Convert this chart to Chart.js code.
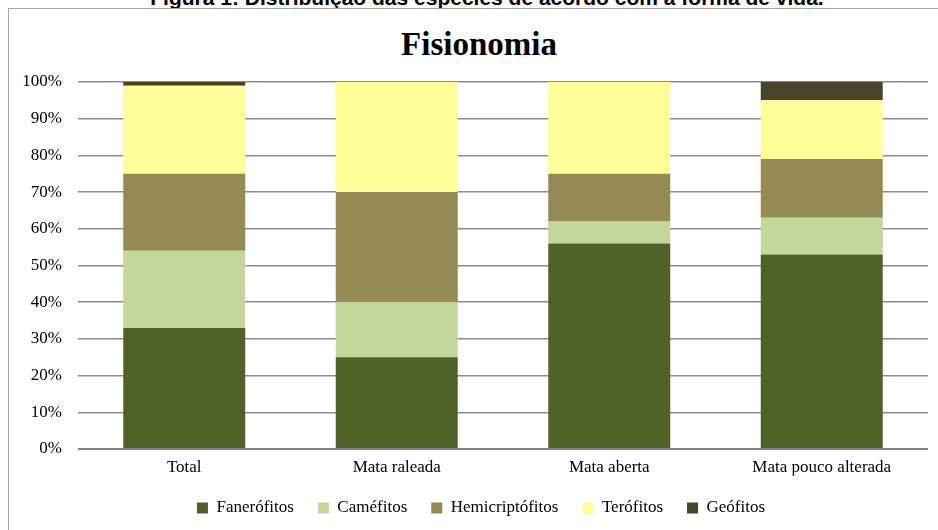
<!DOCTYPE html>
<html>
<head>
<meta charset="utf-8">
<script src="https://cdn.jsdelivr.net/npm/chart.js@4/dist/chart.umd.min.js"></script>
<style>
  html, body { margin:0; padding:0; background:#fff; width:938px; height:530px; overflow:hidden; position:relative; }
  #caption { position:absolute; left:18px; width:938px; top:-14px; text-align:center; font-family:"Liberation Sans", Arial, sans-serif; font-weight:bold; font-size:21px; color:#000; white-space:nowrap; }
  #frame { position:absolute; left:8px; top:8px; width:1000px; height:600px; border:1.5px solid #a6a6a6; box-sizing:border-box; }
  #title { position:absolute; left:10px; width:938px; top:24px; text-align:center; font-family:'Liberation Serif', 'Times New Roman', serif; font-weight:bold; font-size:33px; line-height:40px; color:#000; }
  #wrap { position:absolute; left:0; top:0; width:938px; height:530px; }
</style>
</head>
<body>
<div id="caption">Figura 1: Distribuição das espécies de acordo com a forma de vida.</div>
<div id="frame"></div>
<div id="title">Fisionomia</div>
<div id="wrap"><canvas id="c" width="938" height="530"></canvas></div>
<script>
const categories = ["Total", "Mata raleada", "Mata aberta", "Mata pouco alterada"];
const seriesNames = ["Fanerófitos", "Caméfitos", "Hemicriptófitos", "Terófitos", "Geófitos"];
const fanerofitos = [33, 25, 56, 53];
const camefitos = [21, 15, 6, 10];
const hemicriptofitos = [21, 30, 13, 16];
const terofitos = [24, 30, 25, 16];
const geofitos = [1, 0, 0, 5];
const yTicks = [0, 10, 20, 30, 40, 50, 60, 70, 80, 90, 100];
const colors = ["#4f6228", "#c3d69b", "#948a54", "#ffff99", "#4a452a"];

const values = [fanerofitos, camefitos, hemicriptofitos, terofitos, geofitos];
const serif = "'Liberation Serif', 'Times New Roman', serif";

const legendFix = {
  id: 'legendFix',
  beforeLayout(chart) {
    const lg = chart.legend;
    if (lg && !lg._patched) {
      const orig = lg.fit.bind(lg);
      lg.fit = function () { orig(); this.height = 54.5; };
      lg._patched = true;
    }
  },
  afterLayout(chart) {
    const lg = chart.legend;
    if (lg) { lg.left += 17; lg.right += 17; }
  }
};

new Chart(document.getElementById('c'), {
  type: 'bar',
  data: {
    labels: categories,
    datasets: seriesNames.map((n, i) => ({
      label: n,
      data: values[i],
      backgroundColor: colors[i],
      borderWidth: 0,
      barPercentage: 0.574,
      categoryPercentage: 1.0
    }))
  },
  plugins: [legendFix],
  options: {
    responsive: false,
    animation: false,
    layout: { padding: { top: 82, right: 10, bottom: 0, left: 0 } },
    plugins: {
      title: { display: false },
      legend: {
        position: 'bottom',
        labels: {
          color: '#000',
          font: { family: serif, size: 17 },
          boxWidth: 11,
          boxHeight: 11,
          padding: 24
        }
      },
      tooltip: { enabled: false }
    },
    scales: {
      x: {
        stacked: true,
        grid: { display: false },
        border: { display: false },
        afterFit: (s) => { s.height = 26.5; },
        ticks: { color: '#000', font: { family: serif, size: 17 }, padding: 0 }
      },
      y: {
        stacked: true,
        min: 0,
        max: 100,
        afterBuildTicks: (s) => { s.ticks = yTicks.map(v => ({ value: v })); },
        afterFit: (s) => { s.width = 78; },
        grid: {
          color: (ctx) => ctx.tick && ctx.tick.value === 0 ? '#7f7f7f' : '#8c8c8c',
          lineWidth: (ctx) => ctx.tick && ctx.tick.value === 0 ? 2 : 1.5,
          drawTicks: false
        },
        border: { display: false },
        ticks: {
          color: '#000',
          font: { family: serif, size: 17 },
          padding: 16,
          callback: (v) => v + '%'
        }
      }
    }
  }
});
</script>
</body>
</html>
